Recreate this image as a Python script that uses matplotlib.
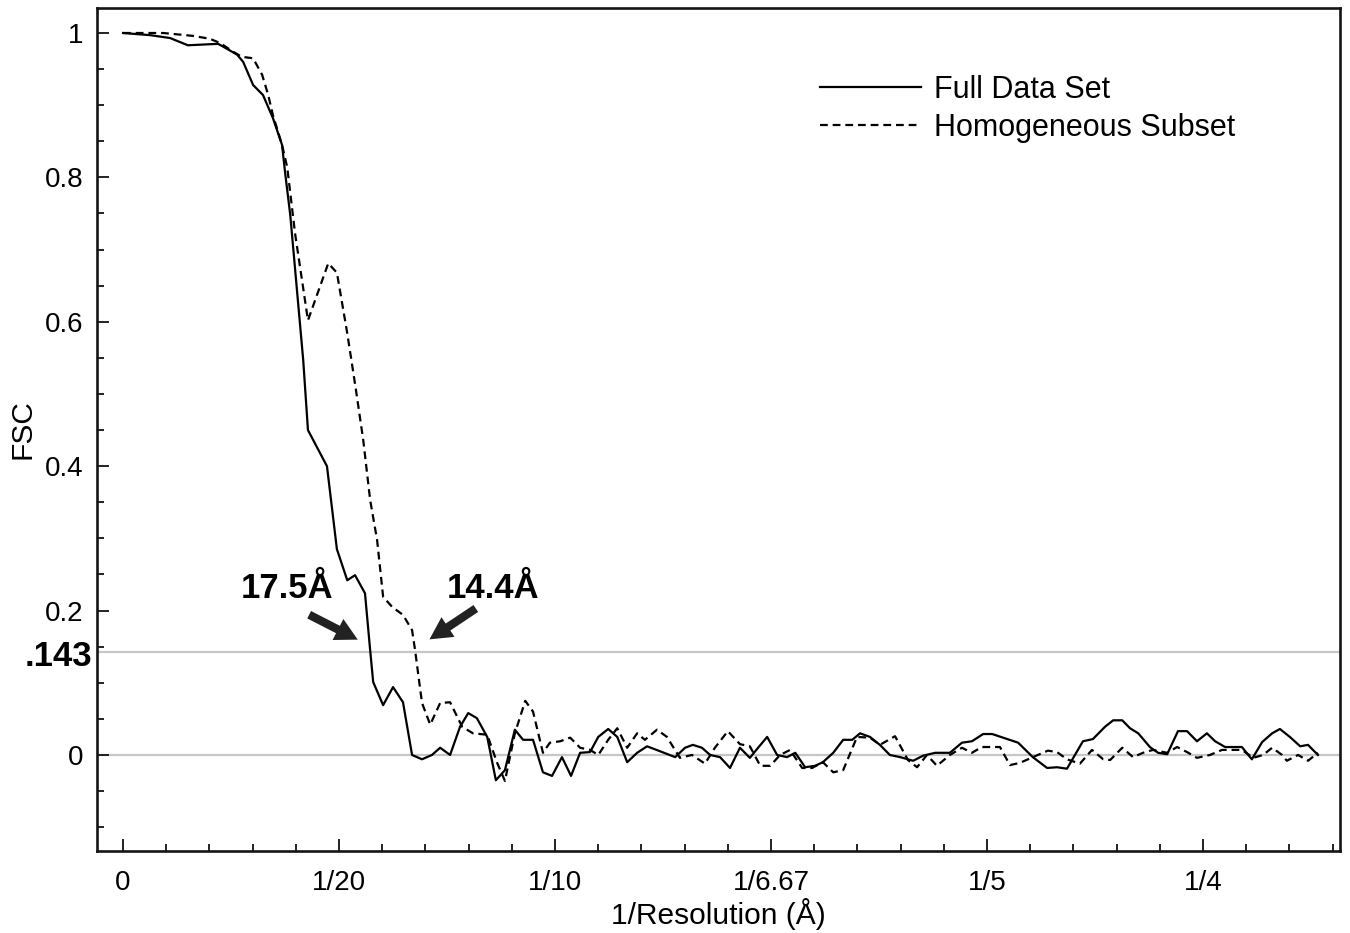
import numpy as np
import matplotlib
matplotlib.use("Agg")
import matplotlib.pyplot as plt
from matplotlib.ticker import MultipleLocator, FixedLocator

plt.rcParams['font.family'] = ['Liberation Sans', 'DejaVu Sans']

# FSC curves (x = 1/resolution in 1/A, y = FSC)
full_x = [0.0, 0.0063, 0.0109, 0.0150, 0.0220, 0.0229, 0.0264, 0.0278, 0.0301, 0.0324,
          0.0347, 0.0368, 0.0375, 0.0387, 0.0417, 0.0428, 0.0472, 0.0495, 0.0519, 0.0537,
          0.0560, 0.0572, 0.0579, 0.0602, 0.0625, 0.0648, 0.0669, 0.0692, 0.0715, 0.0734,
          0.0757, 0.0780, 0.0799, 0.0819, 0.0843, 0.0863, 0.0884, 0.0907, 0.0926, 0.0949,
          0.0972, 0.0993, 0.1016, 0.1037, 0.1058, 0.1081, 0.1100, 0.1123, 0.1144, 0.1167,
          0.1190, 0.1213, 0.1248, 0.1278, 0.1301, 0.1319, 0.1340, 0.1359, 0.1382, 0.1405,
          0.1428, 0.1451, 0.1470, 0.1491, 0.1514, 0.1537, 0.1556, 0.1579, 0.1602, 0.1620,
          0.1644, 0.1667, 0.1688, 0.1706, 0.1729, 0.1752, 0.1775, 0.1799, 0.1829, 0.1852,
          0.1880, 0.1914, 0.1942, 0.1965, 0.1991, 0.2012, 0.2037, 0.2072, 0.2106, 0.2139,
          0.2162, 0.2185, 0.2222, 0.2245, 0.2273, 0.2292, 0.2313, 0.2331, 0.2350, 0.2377,
          0.2396, 0.2417, 0.2442, 0.2463, 0.2486, 0.2509, 0.2528, 0.2551, 0.2569, 0.2590,
          0.2613, 0.2637, 0.2660, 0.2678, 0.2701, 0.2725, 0.2743, 0.2766]
full_y = [1.000, 0.997, 0.993, 0.983, 0.985, 0.982, 0.970, 0.960, 0.928, 0.914,
          0.882, 0.845, 0.807, 0.748, 0.547, 0.450, 0.400, 0.285, 0.242, 0.249,
          0.224, 0.145, 0.101, 0.069, 0.094, 0.073, 0.000, -0.006, 0.000, 0.010,
          0.000, 0.039, 0.058, 0.051, 0.025, -0.035, -0.021, 0.035, 0.021, 0.021,
          -0.024, -0.029, -0.003, -0.029, 0.003, 0.004, 0.025, 0.036, 0.025, -0.010,
          0.003, 0.012, 0.004, -0.003, 0.010, 0.014, 0.010, 0.000, -0.003, -0.018,
          0.010, -0.004, 0.010, 0.025, 0.000, -0.003, 0.003, -0.017, -0.015, -0.010,
          0.003, 0.021, 0.021, 0.030, 0.025, 0.014, 0.000, -0.003, -0.008, -0.001,
          0.003, 0.003, 0.017, 0.019, 0.029, 0.029, 0.024, 0.017, -0.003, -0.018,
          -0.017, -0.019, 0.019, 0.022, 0.039, 0.048, 0.048, 0.037, 0.030, 0.011,
          0.003, 0.001, 0.033, 0.033, 0.019, 0.030, 0.019, 0.011, 0.011, 0.011,
          -0.006, 0.018, 0.030, 0.036, 0.025, 0.012, 0.014, 0.000]

homo_x = [0.0, 0.0093, 0.0162, 0.0201, 0.0225, 0.0255, 0.0275, 0.0301, 0.0322, 0.0336,
          0.0347, 0.0368, 0.0380, 0.0398, 0.0428, 0.0475, 0.0495, 0.0519, 0.0539, 0.0556,
          0.0572, 0.0588, 0.0602, 0.0623, 0.0648, 0.0669, 0.0676, 0.0692, 0.0711, 0.0734,
          0.0757, 0.0785, 0.0810, 0.0843, 0.0866, 0.0884, 0.0907, 0.0931, 0.0949, 0.0972,
          0.0988, 0.1012, 0.1035, 0.1058, 0.1081, 0.1100, 0.1123, 0.1144, 0.1167, 0.1190,
          0.1208, 0.1236, 0.1259, 0.1289, 0.1317, 0.1347, 0.1370, 0.1400, 0.1428, 0.1451,
          0.1475, 0.1498, 0.1521, 0.1544, 0.1572, 0.1595, 0.1620, 0.1644, 0.1667, 0.1699,
          0.1729, 0.1752, 0.1787, 0.1817, 0.1838, 0.1861, 0.1884, 0.1914, 0.1942, 0.1965,
          0.1988, 0.2030, 0.2053, 0.2076, 0.2106, 0.2141, 0.2162, 0.2185, 0.2215, 0.2243,
          0.2269, 0.2285, 0.2313, 0.2338, 0.2361, 0.2384, 0.2417, 0.2440, 0.2463, 0.2486,
          0.2516, 0.2544, 0.2569, 0.2590, 0.2616, 0.2639, 0.2660, 0.2683, 0.2694, 0.2720,
          0.2743, 0.2766]
homo_y = [1.000, 1.000, 0.996, 0.992, 0.986, 0.974, 0.967, 0.965, 0.942, 0.914,
          0.886, 0.845, 0.814, 0.723, 0.602, 0.681, 0.668, 0.584, 0.506, 0.436,
          0.353, 0.298, 0.219, 0.205, 0.194, 0.173, 0.145, 0.072, 0.042, 0.072,
          0.073, 0.039, 0.030, 0.028, -0.011, -0.036, 0.030, 0.075, 0.060, 0.003,
          0.017, 0.019, 0.024, 0.010, 0.007, 0.000, 0.021, 0.037, 0.010, 0.030,
          0.021, 0.035, 0.025, -0.004, 0.000, -0.012, 0.010, 0.033, 0.015, 0.012,
          -0.015, -0.015, 0.000, 0.007, -0.018, -0.018, -0.010, -0.024, -0.021, 0.025,
          0.024, 0.014, 0.026, -0.007, -0.017, 0.000, -0.015, 0.000, 0.010, 0.003,
          0.011, 0.011, -0.014, -0.011, -0.003, 0.006, 0.004, -0.006, -0.012, 0.007,
          -0.006, -0.007, 0.010, -0.003, 0.003, 0.007, 0.003, 0.011, 0.004, -0.004,
          0.000, 0.007, 0.007, 0.007, -0.004, 0.000, 0.010, 0.000, -0.008, 0.000,
          -0.008, 0.003]

x_ticks = [0.0, 0.05, 0.10, 0.15, 0.20, 0.25]
x_tick_labels = ['0', '1/20', '1/10', '1/6.67', '1/5', '1/4']
y_ticks = [0.0, 0.2, 0.4, 0.6, 0.8, 1.0]
y_tick_labels = ['0', '0.2', '0.4', '0.6', '0.8', '1']
threshold = 0.143

fig = plt.figure(figsize=(13.5, 9.33), dpi=100)
ax = fig.add_axes([0.0719, 0.0879, 0.9207, 0.9035])

# reference lines at 0 and at the 0.143 threshold
ax.axhline(0.0, color='#c6c6c6', lw=1.6, zorder=1)
ax.axhline(threshold, color='#c6c6c6', lw=1.6, zorder=1)

ax.plot(full_x, full_y, color='black', lw=1.6, label='Full Data Set', zorder=3)
ax.plot(homo_x, homo_y, color='black', lw=1.6, linestyle=(0, (3.5, 2.2)),
        label='Homogeneous Subset', zorder=3)

ax.set_xlim(-0.00602, 0.28171)
ax.set_ylim(-0.133, 1.0346)

ax.xaxis.set_major_locator(FixedLocator(x_ticks))
ax.set_xticklabels(x_tick_labels)
ax.xaxis.set_minor_locator(MultipleLocator(0.01))
ax.yaxis.set_major_locator(FixedLocator(y_ticks))
ax.set_yticklabels(y_tick_labels)
ax.yaxis.set_minor_locator(MultipleLocator(0.05))

ax.tick_params(which='both', direction='in', top=False, right=False, width=1.3, color='#111')
ax.tick_params(which='major', length=8.5, labelsize=20)
ax.tick_params(which='minor', length=5)
ax.tick_params(axis='y', which='major', pad=10)
ax.tick_params(axis='x', which='major', pad=14)

for s in ax.spines.values():
    s.set_linewidth(1.9)
    s.set_color('#151515')

ax.set_xlabel('1/Resolution (Å)', fontsize=21.5, labelpad=1)
ax.set_ylabel('FSC', fontsize=21.5, labelpad=6)

# threshold label on the left
ax.text(-0.004, 0.136, '.143', transform=ax.get_yaxis_transform(), ha='right', va='center',
        fontsize=25, fontweight='bold')

# resolution labels and arrows
arrow_kw = dict(arrowstyle='simple,head_width=1.7,head_length=1.6,tail_width=0.6',
                color='#222', lw=0)
ax.annotate('', xy=(0.0549, 0.158), xytext=(0.0425, 0.196), arrowprops=arrow_kw)
ax.annotate('', xy=(0.0704, 0.158), xytext=(0.0822, 0.205), arrowprops=arrow_kw)
ax.text(0.038, 0.231, '17.5Å', ha='center', va='center', fontsize=25, fontweight='bold')
ax.text(0.0856, 0.231, '14.4Å', ha='center', va='center', fontsize=25, fontweight='bold')

ax.legend(loc='upper left', bbox_to_anchor=(0.5817, 0.921), frameon=False, fontsize=22,
          handlelength=3.3, handletextpad=0.43, labelspacing=0.26, borderpad=0,
          borderaxespad=0)

fig.savefig('out.png', dpi=100)
